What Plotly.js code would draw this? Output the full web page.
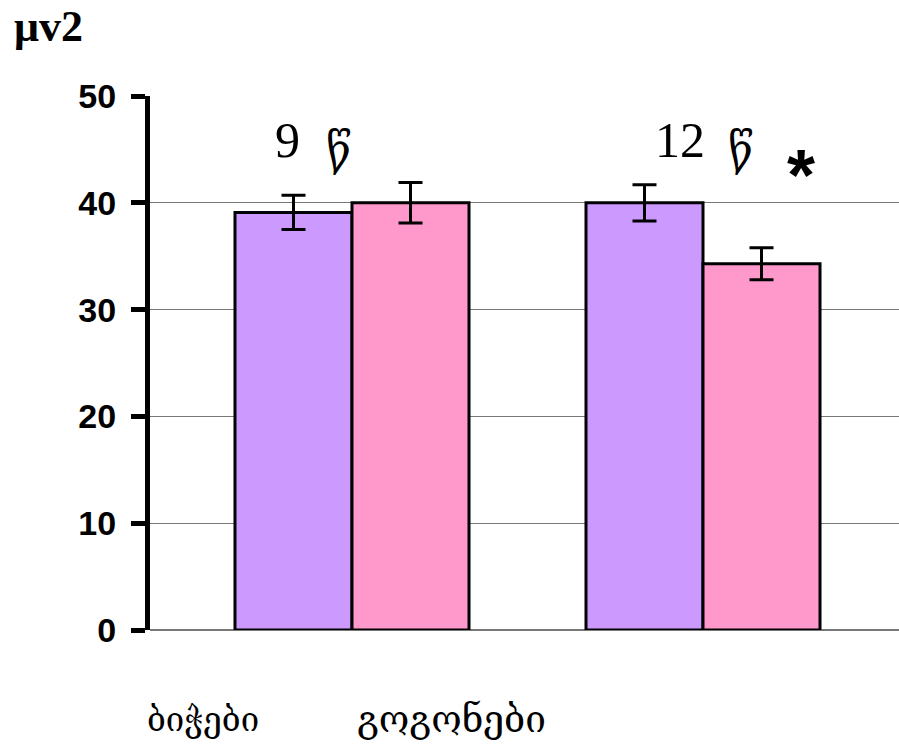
<!DOCTYPE html>
<html>
<head>
<meta charset="utf-8">
<script src="https://cdn.plot.ly/plotly-3.0.1.min.js"></script>
<style>
  html, body { margin: 0; padding: 0; background: #fff; }
  #chart { width: 899px; height: 746px; }
</style>
</head>
<body>
<div id="chart"></div>
<script>
// Age groups (years) and per-group means with their errors
const ages = ["9", "12"];
const ageUnit = "წ";
const seriesNames = ["ბიჭები", "გოგონები"];
const boys = [39.1, 40.0];
const boysErr = [1.6, 1.7];
const girls = [40.0, 34.3];
const girlsErr = [1.9, 1.5];
const yTicks = [0, 10, 20, 30, 40, 50];
const unitLabel = "μv2";
const significance = "*";

const cats = ages.map(a => a + " " + ageUnit);

function barTrace(name, y, err, color) {
  return {
    type: "bar",
    name: name,
    x: cats,
    y: y,
    marker: { color: color, line: { color: "#000", width: 3 } },
    error_y: { type: "data", array: err, visible: true, color: "#000", thickness: 3, width: 12 },
    showlegend: false,
    hoverinfo: "skip"
  };
}

const data = [
  barTrace(seriesNames[0], boys, boysErr, "#CC99FF"),
  barTrace(seriesNames[1], girls, girlsErr, "#FF99CC")
];

const serif = "Liberation Serif, Times New Roman, serif";
const geo = "DejaVu Serif, DejaVu Sans, serif";

const annotations = [
  { x: -0.185, y: 45.9, text: ages[0], font: { family: serif, size: 50, color: "#000" } },
  { x: -0.037, y: 45.0, text: ageUnit, font: { family: geo, size: 44, color: "#000" } },
  { x: 0.934, y: 45.9, text: ages[1], font: { family: serif, size: 50, color: "#000" } },
  { x: 1.108, y: 45.0, text: ageUnit, font: { family: geo, size: 44, color: "#000" } },
  { x: 1.279, y: 42.6, text: significance, font: { family: "Liberation Sans, Arial, sans-serif", size: 72, color: "#000", weight: "bold" } }
].map(a => Object.assign({ xref: "x", yref: "y", showarrow: false, xanchor: "center", yanchor: "middle" }, a));

// unit label top-left
annotations.push({
  xref: "paper", yref: "paper", x: -0.184, y: 1.13, xanchor: "left", yanchor: "middle",
  text: "<b>" + unitLabel + "</b>", showarrow: false,
  font: { family: serif, size: 44, color: "#000" }
});
// series names below the plot
annotations.push({
  xref: "paper", yref: "paper", x: 0.0708, y: -0.168, xanchor: "center", yanchor: "middle",
  text: seriesNames[0], showarrow: false, font: { family: geo, size: 33, color: "#000" }
});
annotations.push({
  xref: "paper", yref: "paper", x: 0.403, y: -0.168, xanchor: "center", yanchor: "middle",
  text: seriesNames[1], showarrow: false, font: { family: geo, size: 37, color: "#000" }
});

const layout = {
  width: 899,
  height: 746,
  margin: { l: 150, r: 0, t: 96, b: 116, pad: 0 },
  paper_bgcolor: "#fff",
  plot_bgcolor: "#fff",
  barmode: "group",
  bargap: 0.3333,
  bargroupgap: 0,
  xaxis: {
    type: "category",
    range: [-0.5755, 1.5584],
    showticklabels: false,
    showgrid: false,
    showline: false,
    zeroline: false,
    ticks: ""
  },
  yaxis: {
    range: [0, 50],
    tickvals: yTicks,
    ticktext: yTicks.map(String),
    ticks: "outside",
    ticklen: 14,
    tickwidth: 5,
    tickcolor: "#000",
    showline: true,
    linewidth: 5,
    linecolor: "#000",
    showgrid: true,
    gridcolor: "#777",
    gridwidth: 1,
    zeroline: true,
    zerolinecolor: "#777",
    zerolinewidth: 1.5,
    ticklabelstandoff: 8,
    tickfont: { family: "Liberation Sans, Arial, sans-serif", size: 34, color: "#000", weight: "bold" }
  },
  annotations: annotations
};

Plotly.newPlot("chart", data, layout, { staticPlot: true, displayModeBar: false });
</script>
</body>
</html>
